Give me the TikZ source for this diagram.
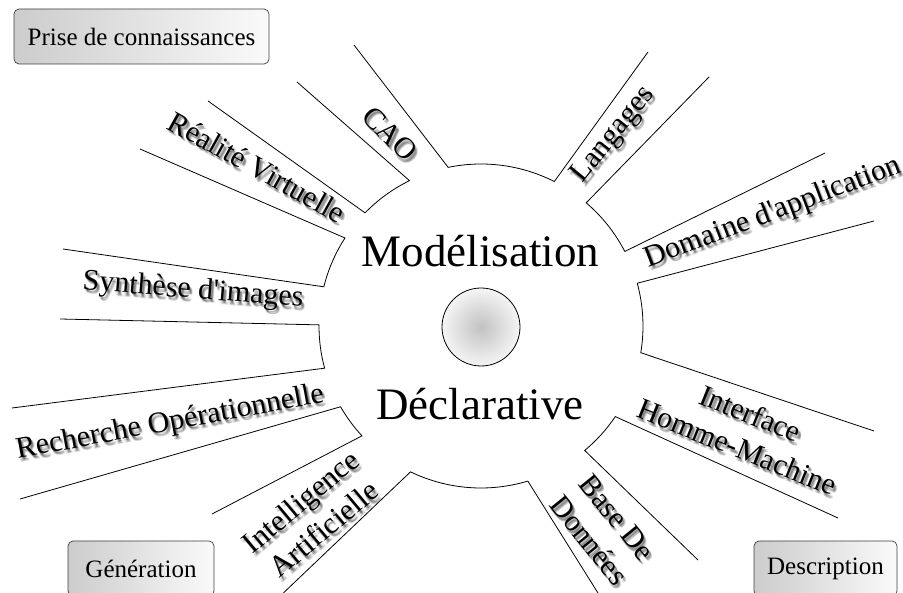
\documentclass[tikz,border=0pt]{standalone}
\usepackage{fontspec}
\setmainfont{Liberation Serif}[Ligatures=TeXOff]
\usetikzlibrary{calc}
\tikzset{
  lbl/.style={font=\fontsize{30}{36}\selectfont, align=center, inner sep=0pt},
  lblshadow/.style={lbl, text=black, text opacity=0.14},
  big/.style={font=\fontsize{45}{54}\selectfont, inner sep=0pt, anchor=base},
  cornerbox/.style={draw=black!75, line width=0.7pt, rounded corners=5pt,
    left color=black!20, right color=black!2, minimum height=55pt,
    inner sep=0pt, font=\fontsize{25}{30}\selectfont},
  outline/.style={line width=0.8pt, line join=miter},
  hub/.style={circle, draw, line width=0.8pt, inner color=black!24,
    outer color=black!4, minimum size=78pt, inner sep=0pt}
}
\newcommand\shlabel[5]{%
  \foreach \dx/\dy [count=\k] in {1.0/1.6, 2.2/2.2, 1.6/3.2, 3.0/3.4, 2.4/4.2}{%
    \node[lblshadow, rotate=#4] (#1-s\k) at ({#2+\dx},{#3-\dy}) {#5};
  }%
  \node[lbl, rotate=#4] (#1) at (#2,#3) {#5};%
}
\begin{document}
\begin{tikzpicture}[x=1pt,y=1pt]
\useasboundingbox (0,0) rectangle (903,-593);
\clip (0,0) rectangle (903,-593);
\fill[white] (0,0) rectangle (903,-593);
\coordinate (C) at (481,-326);
% star outline
\draw[outline]
  (354,-45) -- ($(C)+(101.7:162)$) arc[start angle=101.7, end angle=63.1, radius=162] -- (648,-52)
  (709,-77) -- ($(C)+(49.5:162)$) arc[start angle=49.5, end angle=27.4, radius=162] -- (825,-153)
  (874,-221) -- ($(C)+(15.3:162)$) arc[start angle=15.3, end angle=-9.5, radius=162] -- (874,-431)
  (838,-518) -- ($(C)+(-34:162)$) arc[start angle=-34, end angle=-50.2, radius=162] -- (698,-560)
  (603,-601) -- ($(C)+(-73.2:162)$) arc[start angle=-73.2, end angle=-115.8, radius=162] -- (276,-600)
  (212,-514) -- ($(C)+(-137.3:162)$) arc[start angle=-137.3, end angle=-150.1, radius=162] -- (20,-499)
  (12,-408) -- ($(C)+(-164.9:162)$) arc[start angle=-164.9, end angle=-180.4, radius=162] -- (60,-319)
  (63,-249) -- ($(C)+(166:162)$) arc[start angle=166, end angle=147.1, radius=162] -- (140,-149)
  (208,-101) -- ($(C)+(135.7:162)$) arc[start angle=135.7, end angle=116.2, radius=162] -- (297,-82);
% hub
\node[hub] (hub) at (481,-327) {};
\node[big] (mod) at (480.5,-267) {Modélisation};
\node[big] (decl) at (480,-420) {Déclarative};
% branch labels
\shlabel{cao}{390}{-134}{-45}{CAO}
\shlabel{rv}{257}{-167}{-29}{Réalité Virtuelle}
\shlabel{si}{193}{-291}{-4.5}{Synthèse d'images}
\shlabel{ro}{170}{-423}{10.5}{Recherche Opérationnelle}
\shlabel{ia}{312}{-515}{40}{Intelligence\\Artificielle}
\shlabel{bdd}{603}{-529}{-51}{Base De\\Données}
\shlabel{ihm}{744}{-430}{-22}{Interface\\Homme-Machine}
\shlabel{da}{773}{-213}{20.5}{Domaine d'application}
\shlabel{lang}{614}{-135}{51}{Langages}
% corner boxes
\node[cornerbox, minimum width=255pt] (prise) at (141.5,-36.5) {Prise de connaissances};
\node[cornerbox, minimum width=146pt] (gen) at (141,-568.5) {Génération};
\node[cornerbox, minimum width=143pt] (desc) at (825.5,-568.5) {Description};
\end{tikzpicture}
\end{document}
